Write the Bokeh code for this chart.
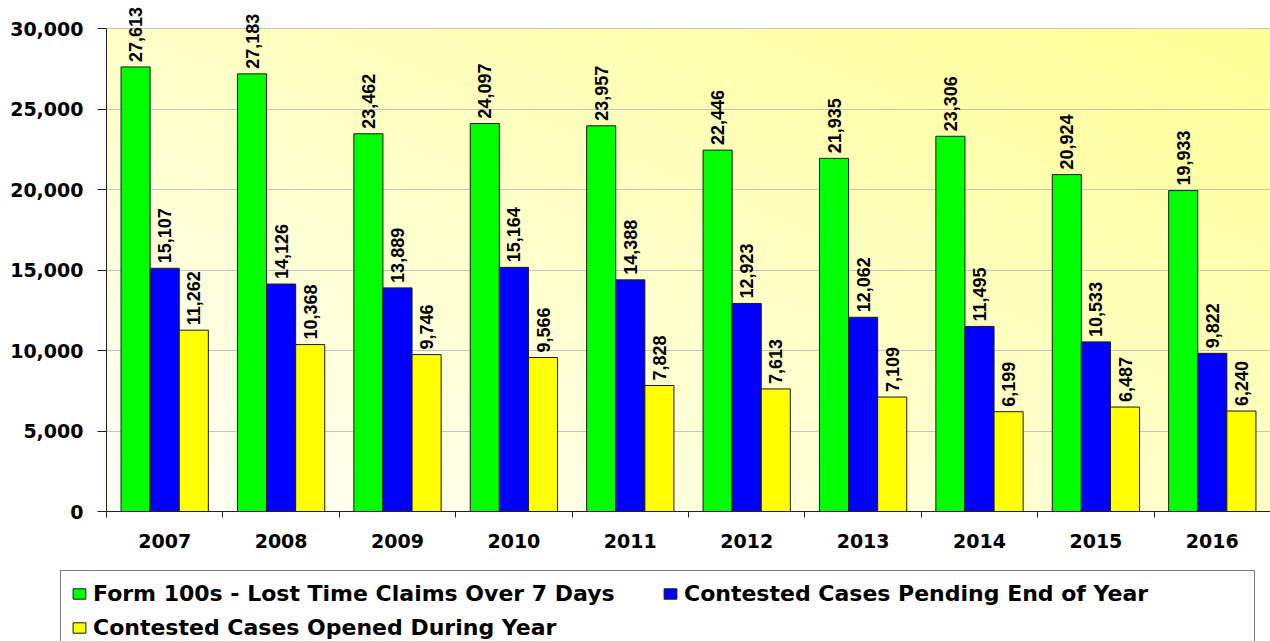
import numpy as np
from math import pi
from bokeh.plotting import figure
from bokeh.layouts import column
from bokeh.models import (ColumnDataSource, Range1d, FixedTicker, NumeralTickFormatter,
                          Legend, LegendItem)
from bokeh.transform import dodge
from bokeh.core.properties import value
from bokeh.embed import file_html
from bokeh.resources import INLINE

years = ["2007", "2008", "2009", "2010", "2011", "2012", "2013", "2014", "2015", "2016"]
form100 = [27613, 27183, 23462, 24097, 23957, 22446, 21935, 23306, 20924, 19933]
pending = [15107, 14126, 13889, 15164, 14388, 12923, 12062, 11495, 10533, 9822]
opened = [11262, 10368, 9746, 9566, 7828, 7613, 7109, 6199, 6487, 6240]

series_names = ["Form 100s - Lost Time Claims Over 7 Days",
                "Contested Cases Pending End of Year",
                "Contested Cases Opened During Year"]
colors = ["#00FF00", "#0000FF", "#FFFF00"]
y_ticks = [0, 5000, 10000, 15000, 20000, 25000, 30000]

xs = list(range(len(years)))
src = ColumnDataSource(dict(
    x=xs,
    form100=form100, pending=pending, opened=opened,
    form100_lbl=[f"{v:,}" for v in form100],
    pending_lbl=[f"{v:,}" for v in pending],
    opened_lbl=[f"{v:,}" for v in opened],
))

# frame reaches the top of the canvas so value labels above 30,000 are not clipped
FRAME_H = 511.0          # px from canvas top to the zero line
AXIS_H = 483.0           # px from the zero line to the 30,000 line
y_top = y_ticks[-1] * FRAME_H / AXIS_H

W = 1270
TOP_H = 560
LEG_H = 641 - TOP_H

p = figure(width=W, height=TOP_H, output_backend="svg", toolbar_location=None,
           x_range=Range1d(-0.5, len(years) - 0.5), y_range=Range1d(0, y_top),
           min_border_left=106, min_border_right=0, min_border_top=0,
           min_border_bottom=TOP_H - int(FRAME_H))
p.frame_align = False
p.outline_line_color = None
p.background_fill_color = "white"
p.border_fill_color = "white"

# diagonal gradient background of the plot area (0 .. 30,000)
nx, ny = 240, 120
u = np.linspace(0, 1, nx)[None, :]
v = np.linspace(0, 1, ny)[:, None]
t = (u + v) / 2.0
blue_ch = (248 - 98 * t).clip(0, 255).astype(np.uint8)
img = np.empty((ny, nx), dtype=np.uint32)
view = img.view(dtype=np.uint8).reshape((ny, nx, 4))
view[:, :, 0] = 255
view[:, :, 1] = 255
view[:, :, 2] = blue_ch
view[:, :, 3] = 255
bg = p.image_rgba(image=[img], x=-0.5, y=0, dw=len(years), dh=y_ticks[-1])
bg.level = "image"

# grid
p.xgrid.visible = False
p.ygrid.grid_line_color = "#C4C4C4"
p.ygrid.grid_line_width = 1.2
p.ygrid.ticker = FixedTicker(ticks=y_ticks)

# bars + rotated value labels
offsets = [-0.25, 0.0, 0.25]
fields = ["form100", "pending", "opened"]
for off, f, c in zip(offsets, fields, colors):
    p.vbar(x=dodge("x", off, range=p.x_range), top=f, width=0.25, source=src,
           fill_color=c, line_color="#1a1a1a", line_width=1)
    p.text(x=dodge("x", off, range=p.x_range), y=f, text=f + "_lbl", source=src,
           angle=pi / 2, text_align="left", text_baseline="middle", y_offset=-5,
           text_font=value("Liberation Sans"), text_font_style="bold",
           text_font_size="18px", text_color="black")

# y axis
yax = p.yaxis[0]
yax.ticker = FixedTicker(ticks=y_ticks)
yax.bounds = (0, y_ticks[-1])
yax.formatter = NumeralTickFormatter(format="0,0")
yax.major_tick_out = 9
yax.major_tick_in = 0
yax.minor_tick_out = 0
yax.minor_tick_in = 0
yax.axis_line_color = "#222222"
yax.major_tick_line_color = "#222222"
yax.major_label_text_font = "DejaVu Sans"
yax.major_label_text_font_style = "bold"
yax.major_label_text_font_size = "19px"
yax.major_label_text_color = "black"
yax.major_label_standoff = 14

# x axis: labels at category centres, ticks at category boundaries
xax = p.xaxis[0]
xax.ticker = FixedTicker(ticks=xs, minor_ticks=[i - 0.5 for i in range(len(years) + 1)])
xax.major_label_overrides = {i: y for i, y in enumerate(years)}
xax.major_tick_out = 0
xax.major_tick_in = 0
xax.minor_tick_out = 6
xax.minor_tick_in = 0
xax.axis_line_color = "#222222"
xax.minor_tick_line_color = "#222222"
xax.major_label_text_font = "DejaVu Sans"
xax.major_label_text_font_style = "bold"
xax.major_label_text_font_size = "19px"
xax.major_label_text_color = "black"
xax.major_label_standoff = 16

# legend strip below the chart (its own frame covers the whole strip);
# the swatch renderers draw the same series, but out of this strip's view
p2 = figure(width=W, height=LEG_H, output_backend="svg", toolbar_location=None,
            x_axis_location=None, y_axis_location=None,
            x_range=Range1d(-100, -99), y_range=Range1d(-100, -99),
            min_border=0)
p2.frame_align = False
p2.outline_line_color = None
p2.xgrid.visible = False
p2.ygrid.visible = False
p2.background_fill_color = "white"
p2.border_fill_color = "white"
swatches = [p2.vbar(x="x", top=f, width=0.25, source=src,
                    fill_color=c, line_color="#1a1a1a", line_width=1)
            for f, c in zip(fields, colors)]

legend = Legend(items=[LegendItem(label=n, renderers=[r]) for n, r in zip(series_names, swatches)],
                orientation="horizontal", nrows=2, location=(60, -10),
                padding=10, spacing=9, margin=0,
                glyph_width=16, glyph_height=13, label_standoff=6, label_width=560,
                label_text_font="DejaVu Sans", label_text_font_style="bold",
                label_text_font_size="22px", label_text_color="black",
                border_line_color="black", border_line_width=1,
                background_fill_color="white", background_fill_alpha=1.0)
p2.add_layout(legend)

layout = column(p, p2, spacing=0)
open("out.html", "w").write(file_html(layout, INLINE))
